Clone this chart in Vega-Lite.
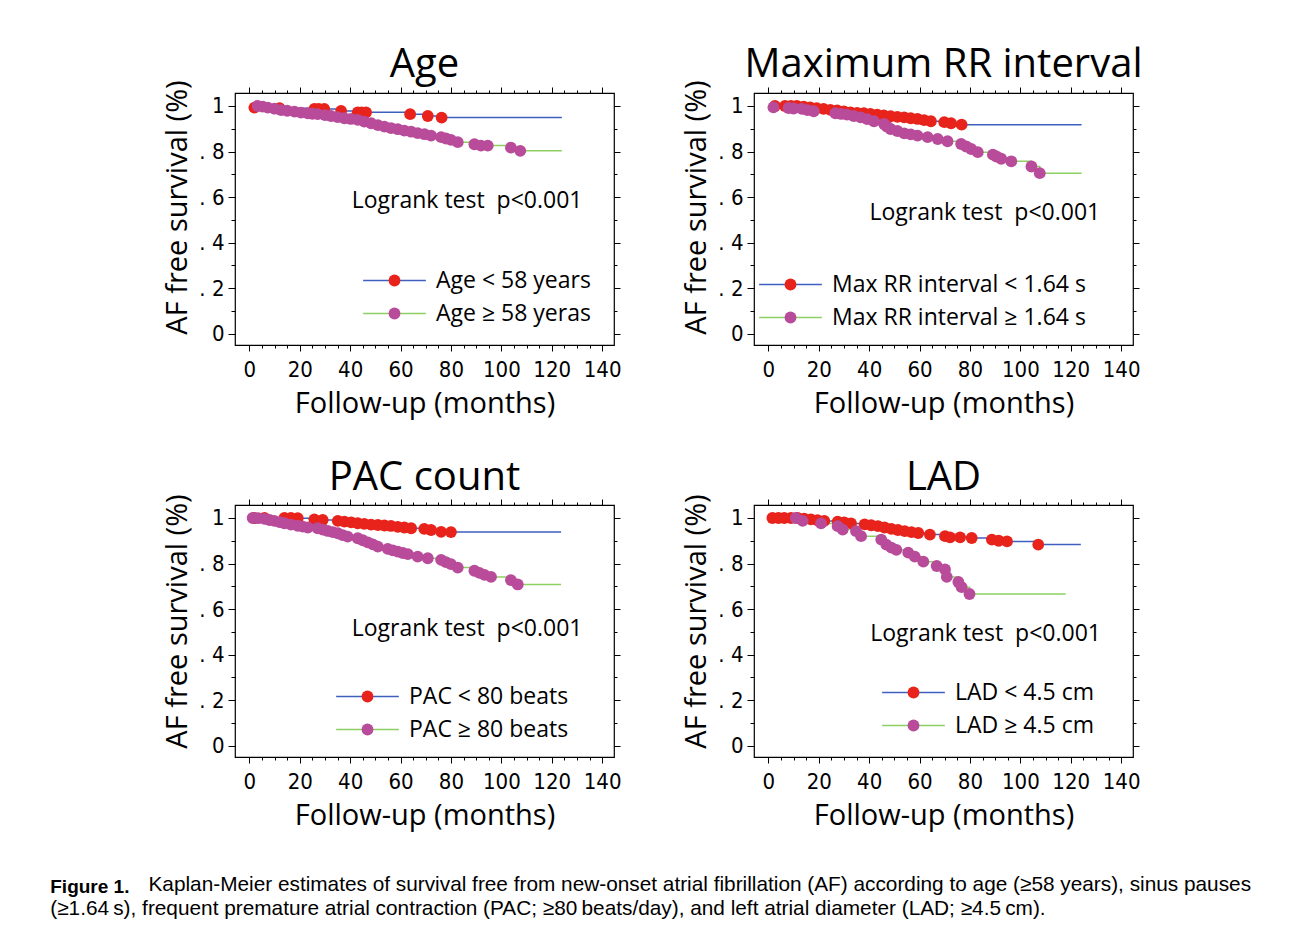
{
  "$schema": "https://vega.github.io/schema/vega-lite/v6.json",
  "background": "white",
  "padding": {"left": 50, "top": 44, "right": 10, "bottom": 10},
  "autosize": {"type": "pad"},
  "columns": 2,
  "spacing": {"row": 38, "column": 60},
  "resolve": {"scale": {"stroke": "independent", "fill": "independent"}, "legend": {"stroke": "independent", "fill": "independent"}},
  "title": {
    "text": "Figure 1.",
    "subtitle": ["\u200b\u00a0\u00a0\u00a0\u00a0\u00a0\u00a0\u00a0\u00a0\u00a0\u00a0\u00a0\u00a0\u00a0\u00a0\u00a0\u00a0\u00a0Kaplan-Meier estimates of survival free from new-onset atrial fibrillation (AF) according to age (≥58 years), sinus pauses", "(≥1.64\u2009s), frequent premature atrial contraction (PAC; ≥80\u2009beats/day), and left atrial diameter (LAD; ≥4.5\u2009cm)."],
    "orient": "bottom", "anchor": "start", "frame": "bounds", "dx": -113, "offset": 47,
    "font": "Liberation Sans", "fontSize": 19, "fontWeight": "bold", "color": "black",
    "subtitleFont": "Liberation Sans", "subtitleFontSize": 20.8, "subtitleColor": "black", "subtitlePadding": -22, "subtitleLineHeight": 24
  },
  "config": {
    "view": {"stroke": "black", "strokeWidth": 1.2},
    "axis": {"domain": false, "grid": false, "labelColor": "black", "tickColor": "black", "titleColor": "black", "labelFont": "DejaVu Sans Condensed, Liberation Sans", "labelFontSize": 22, "titleFont": "Open Sans", "titleFontSize": 29, "titleFontWeight": "normal", "tickWidth": 1, "labelOverlap": false, "labelFlush": false},
    "title": {"font": "Open Sans", "fontSize": 40, "fontWeight": "normal", "color": "black"}
  },
  "concat": [
    {
      "width": 379, "height": 252,
      "title": {"text": "Age", "offset": -5},
      "data": {"values": [
        {"group": "Age < 58 years", "time": 0, "surv": 1, "type": "start"},
        {"group": "Age < 58 years", "time": 2.0, "surv": 0.993, "type": "censor"},
        {"group": "Age < 58 years", "time": 12.0, "surv": 0.99, "type": "censor"},
        {"group": "Age < 58 years", "time": 25.8, "surv": 0.987, "type": "censor"},
        {"group": "Age < 58 years", "time": 27.5, "surv": 0.987, "type": "censor"},
        {"group": "Age < 58 years", "time": 29.7, "surv": 0.987, "type": "censor"},
        {"group": "Age < 58 years", "time": 36.4, "surv": 0.978, "type": "censor"},
        {"group": "Age < 58 years", "time": 43.0, "surv": 0.972, "type": "censor"},
        {"group": "Age < 58 years", "time": 44.5, "surv": 0.972, "type": "censor"},
        {"group": "Age < 58 years", "time": 46.3, "surv": 0.972, "type": "censor"},
        {"group": "Age < 58 years", "time": 63.8, "surv": 0.964, "type": "censor"},
        {"group": "Age < 58 years", "time": 70.8, "surv": 0.956, "type": "censor"},
        {"group": "Age < 58 years", "time": 76.3, "surv": 0.949, "type": "censor"},
        {"group": "Age < 58 years", "time": 124, "surv": 0.949, "type": "end"},
        {"group": "Age ≥ 58 yeras", "time": 0, "surv": 1, "type": "start"},
        {"group": "Age ≥ 58 yeras", "time": 3.3, "surv": 1.0, "type": "censor"},
        {"group": "Age ≥ 58 yeras", "time": 5.3, "surv": 0.997, "type": "censor"},
        {"group": "Age ≥ 58 yeras", "time": 7.3, "surv": 0.993, "type": "censor"},
        {"group": "Age ≥ 58 yeras", "time": 10.0, "surv": 0.988, "type": "censor"},
        {"group": "Age ≥ 58 yeras", "time": 12.6, "surv": 0.982, "type": "censor"},
        {"group": "Age ≥ 58 yeras", "time": 15.0, "surv": 0.979, "type": "censor"},
        {"group": "Age ≥ 58 yeras", "time": 17.9, "surv": 0.975, "type": "censor"},
        {"group": "Age ≥ 58 yeras", "time": 20.5, "surv": 0.971, "type": "censor"},
        {"group": "Age ≥ 58 yeras", "time": 23.2, "surv": 0.968, "type": "censor"},
        {"group": "Age ≥ 58 yeras", "time": 25.0, "surv": 0.966, "type": "censor"},
        {"group": "Age ≥ 58 yeras", "time": 27.1, "surv": 0.964, "type": "censor"},
        {"group": "Age ≥ 58 yeras", "time": 30.0, "surv": 0.96, "type": "censor"},
        {"group": "Age ≥ 58 yeras", "time": 32.4, "surv": 0.956, "type": "censor"},
        {"group": "Age ≥ 58 yeras", "time": 35.0, "surv": 0.951, "type": "censor"},
        {"group": "Age ≥ 58 yeras", "time": 37.7, "surv": 0.946, "type": "censor"},
        {"group": "Age ≥ 58 yeras", "time": 40.3, "surv": 0.943, "type": "censor"},
        {"group": "Age ≥ 58 yeras", "time": 43.0, "surv": 0.939, "type": "censor"},
        {"group": "Age ≥ 58 yeras", "time": 45.6, "surv": 0.931, "type": "censor"},
        {"group": "Age ≥ 58 yeras", "time": 48.3, "surv": 0.924, "type": "censor"},
        {"group": "Age ≥ 58 yeras", "time": 51.0, "surv": 0.916, "type": "censor"},
        {"group": "Age ≥ 58 yeras", "time": 53.6, "surv": 0.909, "type": "censor"},
        {"group": "Age ≥ 58 yeras", "time": 56.2, "surv": 0.903, "type": "censor"},
        {"group": "Age ≥ 58 yeras", "time": 58.9, "surv": 0.898, "type": "censor"},
        {"group": "Age ≥ 58 yeras", "time": 61.5, "surv": 0.892, "type": "censor"},
        {"group": "Age ≥ 58 yeras", "time": 64.2, "surv": 0.887, "type": "censor"},
        {"group": "Age ≥ 58 yeras", "time": 66.8, "surv": 0.881, "type": "censor"},
        {"group": "Age ≥ 58 yeras", "time": 69.5, "surv": 0.876, "type": "censor"},
        {"group": "Age ≥ 58 yeras", "time": 72.1, "surv": 0.87, "type": "censor"},
        {"group": "Age ≥ 58 yeras", "time": 76.1, "surv": 0.863, "type": "censor"},
        {"group": "Age ≥ 58 yeras", "time": 78.0, "surv": 0.857, "type": "censor"},
        {"group": "Age ≥ 58 yeras", "time": 80.0, "surv": 0.851, "type": "censor"},
        {"group": "Age ≥ 58 yeras", "time": 82.7, "surv": 0.841, "type": "censor"},
        {"group": "Age ≥ 58 yeras", "time": 89.3, "surv": 0.832, "type": "censor"},
        {"group": "Age ≥ 58 yeras", "time": 91.9, "surv": 0.826, "type": "censor"},
        {"group": "Age ≥ 58 yeras", "time": 94.6, "surv": 0.826, "type": "censor"},
        {"group": "Age ≥ 58 yeras", "time": 103.8, "surv": 0.817, "type": "censor"},
        {"group": "Age ≥ 58 yeras", "time": 107.5, "surv": 0.803, "type": "censor"},
        {"group": "Age ≥ 58 yeras", "time": 124, "surv": 0.803, "type": "end"}
      ]},
      "layer": [
        {
          "mark": {"type": "line", "interpolate": "step-after", "strokeWidth": 1.5},
          "encoding": {
            "x": {"field": "time", "type": "quantitative", "scale": {"domain": [-5.7, 144.7], "nice": false, "zero": false},
              "axis": {"orient": "bottom", "values": [0,5,10,15,20,25,30,35,40,45,50,55,60,65,70,75,80,85,90,95,100,105,110,115,120,125,130,135,140], "labelExpr": "datum.value % 20 === 0 ? datum.label : ''", "tickSize": {"condition": {"test": "datum.value % 20 === 0", "value": 6}, "value": 3}, "title": "Follow-up (months)", "labelPadding": 8, "titlePadding": 9}},
            "y": {"field": "surv", "type": "quantitative", "scale": {"domain": [-0.05, 1.057], "nice": false, "zero": false},
              "axis": {"orient": "left", "values": [0,0.1,0.2,0.3,0.4,0.5,0.6,0.7,0.8,0.9,1], "labelExpr": "datum.value === 0 ? '0' : datum.value === 1 ? '1' : (round(datum.value*10) % 2 === 0 ? '. ' + round(datum.value*10) : '')", "tickSize": {"condition": {"test": "round(datum.value*10) % 2 === 0", "value": 7}, "value": 4}, "title": "AF free survival (%)", "labelPadding": 4, "titlePadding": 6, "titleY": 114}},
            "stroke": {"field": "group", "type": "nominal", "scale": {"range": ["#3f5fbf", "#8dcf63"]},
              "legend": {"orient": "none", "legendX": 148, "legendY": 176, "title": null, "symbolType": "M-5.3,0H5.3", "symbolSize": 140, "symbolStrokeWidth": 1.5, "labelFont": "Open Sans", "labelFontSize": 23, "labelColor": "black", "labelOffset": 30, "rowPadding": 9, "padding": 0, "labelLimit": 400}}
          }
        },
        {
          "transform": [{"filter": "datum.type === 'censor'"}],
          "mark": {"type": "point", "filled": true, "opacity": 1, "size": 140},
          "encoding": {
            "x": {"field": "time", "type": "quantitative", "axis": {"orient": "top", "labels": false, "title": null, "values": [0,5,10,15,20,25,30,35,40,45,50,55,60,65,70,75,80,85,90,95,100,105,110,115,120,125,130,135,140], "tickSize": {"condition": {"test": "datum.value % 20 === 0", "value": 6}, "value": 3}}},
            "y": {"field": "surv", "type": "quantitative", "axis": {"orient": "right", "labels": false, "title": null, "values": [0,0.1,0.2,0.3,0.4,0.5,0.6,0.7,0.8,0.9,1], "tickSize": {"condition": {"test": "round(datum.value*10) % 2 === 0", "value": 6}, "value": 3}}},
            "fill": {"field": "group", "type": "nominal", "scale": {"domain": ["Age < 58 years", "Age ≥ 58 yeras"], "range": ["#e8231b", "#b94b9b"]},
              "legend": {"orient": "none", "legendX": 148, "legendY": 176, "title": null, "symbolType": "circle", "symbolSize": 140, "symbolStrokeWidth": 0, "labelFont": "Open Sans", "labelFontSize": 23, "labelOpacity": 0, "labelOffset": 30, "rowPadding": 9, "padding": 0, "labelLimit": 400}}
          }
        },
        {
          "data": {"values": [{}]},
          "mark": {"type": "text", "font": "Open Sans", "fontSize": 23, "align": "center", "baseline": "middle", "color": "black"},
          "encoding": {
            "x": {"datum": 86.4, "type": "quantitative", "axis": null},
            "y": {"datum": 0.583, "type": "quantitative", "axis": null},
            "text": {"value": "Logrank test\u00a0\u00a0p<0.001"}
          }
        }
      ],
      "resolve": {"axis": {"x": "independent", "y": "independent"}}
    },
    {
      "width": 379, "height": 252,
      "title": {"text": "Maximum RR interval", "offset": -5},
      "data": {"values": [
        {"group": "Max RR interval < 1.64 s", "time": 0, "surv": 1, "type": "start"},
        {"group": "Max RR interval < 1.64 s", "time": 2.6, "surv": 1.0, "type": "censor"},
        {"group": "Max RR interval < 1.64 s", "time": 6.6, "surv": 1.0, "type": "censor"},
        {"group": "Max RR interval < 1.64 s", "time": 9.0, "surv": 1.0, "type": "censor"},
        {"group": "Max RR interval < 1.64 s", "time": 11.3, "surv": 1.0, "type": "censor"},
        {"group": "Max RR interval < 1.64 s", "time": 14.0, "surv": 0.997, "type": "censor"},
        {"group": "Max RR interval < 1.64 s", "time": 16.6, "surv": 0.994, "type": "censor"},
        {"group": "Max RR interval < 1.64 s", "time": 19.2, "surv": 0.99, "type": "censor"},
        {"group": "Max RR interval < 1.64 s", "time": 21.9, "surv": 0.987, "type": "censor"},
        {"group": "Max RR interval < 1.64 s", "time": 24.6, "surv": 0.983, "type": "censor"},
        {"group": "Max RR interval < 1.64 s", "time": 27.3, "surv": 0.98, "type": "censor"},
        {"group": "Max RR interval < 1.64 s", "time": 30.0, "surv": 0.976, "type": "censor"},
        {"group": "Max RR interval < 1.64 s", "time": 32.6, "surv": 0.972, "type": "censor"},
        {"group": "Max RR interval < 1.64 s", "time": 35.2, "surv": 0.97, "type": "censor"},
        {"group": "Max RR interval < 1.64 s", "time": 37.9, "surv": 0.968, "type": "censor"},
        {"group": "Max RR interval < 1.64 s", "time": 40.5, "surv": 0.965, "type": "censor"},
        {"group": "Max RR interval < 1.64 s", "time": 43.2, "surv": 0.962, "type": "censor"},
        {"group": "Max RR interval < 1.64 s", "time": 45.8, "surv": 0.958, "type": "censor"},
        {"group": "Max RR interval < 1.64 s", "time": 48.5, "surv": 0.955, "type": "censor"},
        {"group": "Max RR interval < 1.64 s", "time": 51.2, "surv": 0.952, "type": "censor"},
        {"group": "Max RR interval < 1.64 s", "time": 53.9, "surv": 0.95, "type": "censor"},
        {"group": "Max RR interval < 1.64 s", "time": 56.5, "surv": 0.946, "type": "censor"},
        {"group": "Max RR interval < 1.64 s", "time": 59.2, "surv": 0.943, "type": "censor"},
        {"group": "Max RR interval < 1.64 s", "time": 61.8, "surv": 0.938, "type": "censor"},
        {"group": "Max RR interval < 1.64 s", "time": 64.5, "surv": 0.933, "type": "censor"},
        {"group": "Max RR interval < 1.64 s", "time": 69.8, "surv": 0.929, "type": "censor"},
        {"group": "Max RR interval < 1.64 s", "time": 72.5, "surv": 0.924, "type": "censor"},
        {"group": "Max RR interval < 1.64 s", "time": 76.7, "surv": 0.918, "type": "censor"},
        {"group": "Max RR interval < 1.64 s", "time": 124.3, "surv": 0.918, "type": "end"},
        {"group": "Max RR interval ≥ 1.64 s", "time": 0, "surv": 1, "type": "start"},
        {"group": "Max RR interval ≥ 1.64 s", "time": 2.0, "surv": 0.994, "type": "censor"},
        {"group": "Max RR interval ≥ 1.64 s", "time": 8.0, "surv": 0.991, "type": "censor"},
        {"group": "Max RR interval ≥ 1.64 s", "time": 10.0, "surv": 0.989, "type": "censor"},
        {"group": "Max RR interval ≥ 1.64 s", "time": 13.3, "surv": 0.987, "type": "censor"},
        {"group": "Max RR interval ≥ 1.64 s", "time": 15.5, "surv": 0.982, "type": "censor"},
        {"group": "Max RR interval ≥ 1.64 s", "time": 18.0, "surv": 0.977, "type": "censor"},
        {"group": "Max RR interval ≥ 1.64 s", "time": 26.6, "surv": 0.968, "type": "censor"},
        {"group": "Max RR interval ≥ 1.64 s", "time": 28.9, "surv": 0.965, "type": "censor"},
        {"group": "Max RR interval ≥ 1.64 s", "time": 31.2, "surv": 0.962, "type": "censor"},
        {"group": "Max RR interval ≥ 1.64 s", "time": 33.9, "surv": 0.956, "type": "censor"},
        {"group": "Max RR interval ≥ 1.64 s", "time": 36.6, "surv": 0.95, "type": "censor"},
        {"group": "Max RR interval ≥ 1.64 s", "time": 39.2, "surv": 0.942, "type": "censor"},
        {"group": "Max RR interval ≥ 1.64 s", "time": 41.9, "surv": 0.933, "type": "censor"},
        {"group": "Max RR interval ≥ 1.64 s", "time": 45.9, "surv": 0.921, "type": "censor"},
        {"group": "Max RR interval ≥ 1.64 s", "time": 47.0, "surv": 0.91, "type": "censor"},
        {"group": "Max RR interval ≥ 1.64 s", "time": 48.5, "surv": 0.899, "type": "censor"},
        {"group": "Max RR interval ≥ 1.64 s", "time": 51.2, "surv": 0.89, "type": "censor"},
        {"group": "Max RR interval ≥ 1.64 s", "time": 53.9, "surv": 0.88, "type": "censor"},
        {"group": "Max RR interval ≥ 1.64 s", "time": 56.5, "surv": 0.875, "type": "censor"},
        {"group": "Max RR interval ≥ 1.64 s", "time": 59.2, "surv": 0.87, "type": "censor"},
        {"group": "Max RR interval ≥ 1.64 s", "time": 63.2, "surv": 0.863, "type": "censor"},
        {"group": "Max RR interval ≥ 1.64 s", "time": 67.2, "surv": 0.855, "type": "censor"},
        {"group": "Max RR interval ≥ 1.64 s", "time": 71.1, "surv": 0.845, "type": "censor"},
        {"group": "Max RR interval ≥ 1.64 s", "time": 76.5, "surv": 0.833, "type": "censor"},
        {"group": "Max RR interval ≥ 1.64 s", "time": 78.5, "surv": 0.822, "type": "censor"},
        {"group": "Max RR interval ≥ 1.64 s", "time": 80.5, "surv": 0.811, "type": "censor"},
        {"group": "Max RR interval ≥ 1.64 s", "time": 83.1, "surv": 0.797, "type": "censor"},
        {"group": "Max RR interval ≥ 1.64 s", "time": 89.1, "surv": 0.786, "type": "censor"},
        {"group": "Max RR interval ≥ 1.64 s", "time": 90.5, "surv": 0.778, "type": "censor"},
        {"group": "Max RR interval ≥ 1.64 s", "time": 92.4, "surv": 0.768, "type": "censor"},
        {"group": "Max RR interval ≥ 1.64 s", "time": 96.4, "surv": 0.757, "type": "censor"},
        {"group": "Max RR interval ≥ 1.64 s", "time": 104.4, "surv": 0.734, "type": "censor"},
        {"group": "Max RR interval ≥ 1.64 s", "time": 107.7, "surv": 0.705, "type": "censor"},
        {"group": "Max RR interval ≥ 1.64 s", "time": 124.3, "surv": 0.705, "type": "end"}
      ]},
      "layer": [
        {
          "mark": {"type": "line", "interpolate": "step-after", "strokeWidth": 1.5},
          "encoding": {
            "x": {"field": "time", "type": "quantitative", "scale": {"domain": [-5.7, 144.7], "nice": false, "zero": false},
              "axis": {"orient": "bottom", "values": [0,5,10,15,20,25,30,35,40,45,50,55,60,65,70,75,80,85,90,95,100,105,110,115,120,125,130,135,140], "labelExpr": "datum.value % 20 === 0 ? datum.label : ''", "tickSize": {"condition": {"test": "datum.value % 20 === 0", "value": 6}, "value": 3}, "title": "Follow-up (months)", "labelPadding": 8, "titlePadding": 9}},
            "y": {"field": "surv", "type": "quantitative", "scale": {"domain": [-0.05, 1.057], "nice": false, "zero": false},
              "axis": {"orient": "left", "values": [0,0.1,0.2,0.3,0.4,0.5,0.6,0.7,0.8,0.9,1], "labelExpr": "datum.value === 0 ? '0' : datum.value === 1 ? '1' : (round(datum.value*10) % 2 === 0 ? '. ' + round(datum.value*10) : '')", "tickSize": {"condition": {"test": "round(datum.value*10) % 2 === 0", "value": 7}, "value": 4}, "title": "AF free survival (%)", "labelPadding": 4, "titlePadding": 6, "titleY": 114}},
            "stroke": {"field": "group", "type": "nominal", "scale": {"range": ["#3f5fbf", "#8dcf63"]},
              "legend": {"orient": "none", "legendX": 25, "legendY": 180, "title": null, "symbolType": "M-5.3,0H5.3", "symbolSize": 140, "symbolStrokeWidth": 1.5, "labelFont": "Open Sans", "labelFontSize": 23, "labelColor": "black", "labelOffset": 30, "rowPadding": 9, "padding": 0, "labelLimit": 400}}
          }
        },
        {
          "transform": [{"filter": "datum.type === 'censor'"}],
          "mark": {"type": "point", "filled": true, "opacity": 1, "size": 140},
          "encoding": {
            "x": {"field": "time", "type": "quantitative", "axis": {"orient": "top", "labels": false, "title": null, "values": [0,5,10,15,20,25,30,35,40,45,50,55,60,65,70,75,80,85,90,95,100,105,110,115,120,125,130,135,140], "tickSize": {"condition": {"test": "datum.value % 20 === 0", "value": 6}, "value": 3}}},
            "y": {"field": "surv", "type": "quantitative", "axis": {"orient": "right", "labels": false, "title": null, "values": [0,0.1,0.2,0.3,0.4,0.5,0.6,0.7,0.8,0.9,1], "tickSize": {"condition": {"test": "round(datum.value*10) % 2 === 0", "value": 6}, "value": 3}}},
            "fill": {"field": "group", "type": "nominal", "scale": {"domain": ["Max RR interval < 1.64 s", "Max RR interval ≥ 1.64 s"], "range": ["#e8231b", "#b94b9b"]},
              "legend": {"orient": "none", "legendX": 25, "legendY": 180, "title": null, "symbolType": "circle", "symbolSize": 140, "symbolStrokeWidth": 0, "labelFont": "Open Sans", "labelFontSize": 23, "labelOpacity": 0, "labelOffset": 30, "rowPadding": 9, "padding": 0, "labelLimit": 400}}
          }
        },
        {
          "data": {"values": [{}]},
          "mark": {"type": "text", "font": "Open Sans", "fontSize": 23, "align": "center", "baseline": "middle", "color": "black"},
          "encoding": {
            "x": {"datum": 85.9, "type": "quantitative", "axis": null},
            "y": {"datum": 0.531, "type": "quantitative", "axis": null},
            "text": {"value": "Logrank test\u00a0\u00a0p<0.001"}
          }
        }
      ],
      "resolve": {"axis": {"x": "independent", "y": "independent"}}
    },
    {
      "width": 379, "height": 252,
      "title": {"text": "PAC count", "offset": -4},
      "data": {"values": [
        {"group": "PAC < 80 beats", "time": 0, "surv": 1, "type": "start"},
        {"group": "PAC < 80 beats", "time": 2.0, "surv": 1.0, "type": "censor"},
        {"group": "PAC < 80 beats", "time": 6.0, "surv": 1.0, "type": "censor"},
        {"group": "PAC < 80 beats", "time": 13.9, "surv": 1.0, "type": "censor"},
        {"group": "PAC < 80 beats", "time": 16.5, "surv": 1.0, "type": "censor"},
        {"group": "PAC < 80 beats", "time": 19.2, "surv": 0.999, "type": "censor"},
        {"group": "PAC < 80 beats", "time": 25.8, "surv": 0.994, "type": "censor"},
        {"group": "PAC < 80 beats", "time": 29.1, "surv": 0.991, "type": "censor"},
        {"group": "PAC < 80 beats", "time": 35.1, "surv": 0.987, "type": "censor"},
        {"group": "PAC < 80 beats", "time": 37.7, "surv": 0.984, "type": "censor"},
        {"group": "PAC < 80 beats", "time": 40.4, "surv": 0.981, "type": "censor"},
        {"group": "PAC < 80 beats", "time": 43.0, "surv": 0.977, "type": "censor"},
        {"group": "PAC < 80 beats", "time": 45.6, "surv": 0.974, "type": "censor"},
        {"group": "PAC < 80 beats", "time": 48.3, "surv": 0.971, "type": "censor"},
        {"group": "PAC < 80 beats", "time": 51.0, "surv": 0.969, "type": "censor"},
        {"group": "PAC < 80 beats", "time": 53.6, "surv": 0.967, "type": "censor"},
        {"group": "PAC < 80 beats", "time": 56.2, "surv": 0.965, "type": "censor"},
        {"group": "PAC < 80 beats", "time": 58.9, "surv": 0.961, "type": "censor"},
        {"group": "PAC < 80 beats", "time": 61.5, "surv": 0.958, "type": "censor"},
        {"group": "PAC < 80 beats", "time": 64.2, "surv": 0.955, "type": "censor"},
        {"group": "PAC < 80 beats", "time": 69.4, "surv": 0.952, "type": "censor"},
        {"group": "PAC < 80 beats", "time": 72.1, "surv": 0.947, "type": "censor"},
        {"group": "PAC < 80 beats", "time": 76.1, "surv": 0.939, "type": "censor"},
        {"group": "PAC < 80 beats", "time": 80.0, "surv": 0.938, "type": "censor"},
        {"group": "PAC < 80 beats", "time": 123.7, "surv": 0.938, "type": "end"},
        {"group": "PAC ≥ 80 beats", "time": 0, "surv": 1, "type": "start"},
        {"group": "PAC ≥ 80 beats", "time": 1.3, "surv": 1.0, "type": "censor"},
        {"group": "PAC ≥ 80 beats", "time": 3.5, "surv": 0.999, "type": "censor"},
        {"group": "PAC ≥ 80 beats", "time": 6.0, "surv": 0.996, "type": "censor"},
        {"group": "PAC ≥ 80 beats", "time": 8.0, "surv": 0.991, "type": "censor"},
        {"group": "PAC ≥ 80 beats", "time": 9.9, "surv": 0.987, "type": "censor"},
        {"group": "PAC ≥ 80 beats", "time": 12.0, "surv": 0.982, "type": "censor"},
        {"group": "PAC ≥ 80 beats", "time": 13.9, "surv": 0.977, "type": "censor"},
        {"group": "PAC ≥ 80 beats", "time": 16.5, "surv": 0.971, "type": "censor"},
        {"group": "PAC ≥ 80 beats", "time": 19.2, "surv": 0.966, "type": "censor"},
        {"group": "PAC ≥ 80 beats", "time": 21.2, "surv": 0.962, "type": "censor"},
        {"group": "PAC ≥ 80 beats", "time": 23.2, "surv": 0.958, "type": "censor"},
        {"group": "PAC ≥ 80 beats", "time": 27.1, "surv": 0.955, "type": "censor"},
        {"group": "PAC ≥ 80 beats", "time": 29.1, "surv": 0.949, "type": "censor"},
        {"group": "PAC ≥ 80 beats", "time": 31.1, "surv": 0.943, "type": "censor"},
        {"group": "PAC ≥ 80 beats", "time": 33.1, "surv": 0.938, "type": "censor"},
        {"group": "PAC ≥ 80 beats", "time": 35.1, "surv": 0.933, "type": "censor"},
        {"group": "PAC ≥ 80 beats", "time": 37.0, "surv": 0.925, "type": "censor"},
        {"group": "PAC ≥ 80 beats", "time": 39.0, "surv": 0.918, "type": "censor"},
        {"group": "PAC ≥ 80 beats", "time": 43.0, "surv": 0.911, "type": "censor"},
        {"group": "PAC ≥ 80 beats", "time": 45.0, "surv": 0.902, "type": "censor"},
        {"group": "PAC ≥ 80 beats", "time": 47.0, "surv": 0.893, "type": "censor"},
        {"group": "PAC ≥ 80 beats", "time": 49.0, "surv": 0.884, "type": "censor"},
        {"group": "PAC ≥ 80 beats", "time": 51.0, "surv": 0.874, "type": "censor"},
        {"group": "PAC ≥ 80 beats", "time": 54.9, "surv": 0.864, "type": "censor"},
        {"group": "PAC ≥ 80 beats", "time": 56.9, "surv": 0.858, "type": "censor"},
        {"group": "PAC ≥ 80 beats", "time": 58.9, "surv": 0.852, "type": "censor"},
        {"group": "PAC ≥ 80 beats", "time": 60.9, "surv": 0.846, "type": "censor"},
        {"group": "PAC ≥ 80 beats", "time": 62.9, "surv": 0.841, "type": "censor"},
        {"group": "PAC ≥ 80 beats", "time": 66.8, "surv": 0.83, "type": "censor"},
        {"group": "PAC ≥ 80 beats", "time": 70.8, "surv": 0.823, "type": "censor"},
        {"group": "PAC ≥ 80 beats", "time": 76.1, "surv": 0.816, "type": "censor"},
        {"group": "PAC ≥ 80 beats", "time": 78.0, "surv": 0.806, "type": "censor"},
        {"group": "PAC ≥ 80 beats", "time": 80.0, "surv": 0.797, "type": "censor"},
        {"group": "PAC ≥ 80 beats", "time": 82.7, "surv": 0.782, "type": "censor"},
        {"group": "PAC ≥ 80 beats", "time": 89.3, "surv": 0.768, "type": "censor"},
        {"group": "PAC ≥ 80 beats", "time": 91.3, "surv": 0.759, "type": "censor"},
        {"group": "PAC ≥ 80 beats", "time": 93.3, "surv": 0.75, "type": "censor"},
        {"group": "PAC ≥ 80 beats", "time": 95.9, "surv": 0.741, "type": "censor"},
        {"group": "PAC ≥ 80 beats", "time": 103.8, "surv": 0.727, "type": "censor"},
        {"group": "PAC ≥ 80 beats", "time": 106.5, "surv": 0.708, "type": "censor"},
        {"group": "PAC ≥ 80 beats", "time": 123.7, "surv": 0.708, "type": "end"}
      ]},
      "layer": [
        {
          "mark": {"type": "line", "interpolate": "step-after", "strokeWidth": 1.5},
          "encoding": {
            "x": {"field": "time", "type": "quantitative", "scale": {"domain": [-5.7, 144.7], "nice": false, "zero": false},
              "axis": {"orient": "bottom", "values": [0,5,10,15,20,25,30,35,40,45,50,55,60,65,70,75,80,85,90,95,100,105,110,115,120,125,130,135,140], "labelExpr": "datum.value % 20 === 0 ? datum.label : ''", "tickSize": {"condition": {"test": "datum.value % 20 === 0", "value": 6}, "value": 3}, "title": "Follow-up (months)", "labelPadding": 8, "titlePadding": 9}},
            "y": {"field": "surv", "type": "quantitative", "scale": {"domain": [-0.05, 1.057], "nice": false, "zero": false},
              "axis": {"orient": "left", "values": [0,0.1,0.2,0.3,0.4,0.5,0.6,0.7,0.8,0.9,1], "labelExpr": "datum.value === 0 ? '0' : datum.value === 1 ? '1' : (round(datum.value*10) % 2 === 0 ? '. ' + round(datum.value*10) : '')", "tickSize": {"condition": {"test": "round(datum.value*10) % 2 === 0", "value": 7}, "value": 4}, "title": "AF free survival (%)", "labelPadding": 4, "titlePadding": 6, "titleY": 116}},
            "stroke": {"field": "group", "type": "nominal", "scale": {"range": ["#3f5fbf", "#8dcf63"]},
              "legend": {"orient": "none", "legendX": 121, "legendY": 180, "title": null, "symbolType": "M-5.3,0H5.3", "symbolSize": 140, "symbolStrokeWidth": 1.5, "labelFont": "Open Sans", "labelFontSize": 23, "labelColor": "black", "labelOffset": 30, "rowPadding": 9, "padding": 0, "labelLimit": 400}}
          }
        },
        {
          "transform": [{"filter": "datum.type === 'censor'"}],
          "mark": {"type": "point", "filled": true, "opacity": 1, "size": 140},
          "encoding": {
            "x": {"field": "time", "type": "quantitative", "axis": {"orient": "top", "labels": false, "title": null, "values": [0,5,10,15,20,25,30,35,40,45,50,55,60,65,70,75,80,85,90,95,100,105,110,115,120,125,130,135,140], "tickSize": {"condition": {"test": "datum.value % 20 === 0", "value": 6}, "value": 3}}},
            "y": {"field": "surv", "type": "quantitative", "axis": {"orient": "right", "labels": false, "title": null, "values": [0,0.1,0.2,0.3,0.4,0.5,0.6,0.7,0.8,0.9,1], "tickSize": {"condition": {"test": "round(datum.value*10) % 2 === 0", "value": 6}, "value": 3}}},
            "fill": {"field": "group", "type": "nominal", "scale": {"domain": ["PAC < 80 beats", "PAC ≥ 80 beats"], "range": ["#e8231b", "#b94b9b"]},
              "legend": {"orient": "none", "legendX": 121, "legendY": 180, "title": null, "symbolType": "circle", "symbolSize": 140, "symbolStrokeWidth": 0, "labelFont": "Open Sans", "labelFontSize": 23, "labelOpacity": 0, "labelOffset": 30, "rowPadding": 9, "padding": 0, "labelLimit": 400}}
          }
        },
        {
          "data": {"values": [{}]},
          "mark": {"type": "text", "font": "Open Sans", "fontSize": 23, "align": "center", "baseline": "middle", "color": "black"},
          "encoding": {
            "x": {"datum": 86.4, "type": "quantitative", "axis": null},
            "y": {"datum": 0.513, "type": "quantitative", "axis": null},
            "text": {"value": "Logrank test\u00a0\u00a0p<0.001"}
          }
        }
      ],
      "resolve": {"axis": {"x": "independent", "y": "independent"}}
    },
    {
      "width": 379, "height": 252,
      "title": {"text": "LAD", "offset": -4},
      "data": {"values": [
        {"group": "LAD < 4.5 cm", "time": 0, "surv": 1, "type": "start"},
        {"group": "LAD < 4.5 cm", "time": 1.6, "surv": 1.0, "type": "censor"},
        {"group": "LAD < 4.5 cm", "time": 4.0, "surv": 1.0, "type": "censor"},
        {"group": "LAD < 4.5 cm", "time": 6.3, "surv": 1.0, "type": "censor"},
        {"group": "LAD < 4.5 cm", "time": 9.0, "surv": 1.0, "type": "censor"},
        {"group": "LAD < 4.5 cm", "time": 11.6, "surv": 1.0, "type": "censor"},
        {"group": "LAD < 4.5 cm", "time": 14.2, "surv": 0.997, "type": "censor"},
        {"group": "LAD < 4.5 cm", "time": 16.9, "surv": 0.994, "type": "censor"},
        {"group": "LAD < 4.5 cm", "time": 19.5, "surv": 0.99, "type": "censor"},
        {"group": "LAD < 4.5 cm", "time": 22.2, "surv": 0.987, "type": "censor"},
        {"group": "LAD < 4.5 cm", "time": 27.5, "surv": 0.984, "type": "censor"},
        {"group": "LAD < 4.5 cm", "time": 30.1, "surv": 0.98, "type": "censor"},
        {"group": "LAD < 4.5 cm", "time": 32.8, "surv": 0.976, "type": "censor"},
        {"group": "LAD < 4.5 cm", "time": 38.2, "surv": 0.972, "type": "censor"},
        {"group": "LAD < 4.5 cm", "time": 40.8, "surv": 0.968, "type": "censor"},
        {"group": "LAD < 4.5 cm", "time": 43.5, "surv": 0.964, "type": "censor"},
        {"group": "LAD < 4.5 cm", "time": 46.1, "surv": 0.958, "type": "censor"},
        {"group": "LAD < 4.5 cm", "time": 48.8, "surv": 0.952, "type": "censor"},
        {"group": "LAD < 4.5 cm", "time": 51.4, "surv": 0.947, "type": "censor"},
        {"group": "LAD < 4.5 cm", "time": 54.1, "surv": 0.942, "type": "censor"},
        {"group": "LAD < 4.5 cm", "time": 56.8, "surv": 0.938, "type": "censor"},
        {"group": "LAD < 4.5 cm", "time": 59.5, "surv": 0.934, "type": "censor"},
        {"group": "LAD < 4.5 cm", "time": 64.1, "surv": 0.927, "type": "censor"},
        {"group": "LAD < 4.5 cm", "time": 70.1, "surv": 0.92, "type": "censor"},
        {"group": "LAD < 4.5 cm", "time": 72.1, "surv": 0.915, "type": "censor"},
        {"group": "LAD < 4.5 cm", "time": 76.1, "surv": 0.915, "type": "censor"},
        {"group": "LAD < 4.5 cm", "time": 80.7, "surv": 0.912, "type": "censor"},
        {"group": "LAD < 4.5 cm", "time": 88.7, "surv": 0.905, "type": "censor"},
        {"group": "LAD < 4.5 cm", "time": 91.4, "surv": 0.9, "type": "censor"},
        {"group": "LAD < 4.5 cm", "time": 94.7, "surv": 0.897, "type": "censor"},
        {"group": "LAD < 4.5 cm", "time": 107.1, "surv": 0.883, "type": "censor"},
        {"group": "LAD < 4.5 cm", "time": 124.0, "surv": 0.883, "type": "end"},
        {"group": "LAD ≥ 4.5 cm", "time": 0, "surv": 1, "type": "start"},
        {"group": "LAD ≥ 4.5 cm", "time": 10.9, "surv": 1.0, "type": "censor"},
        {"group": "LAD ≥ 4.5 cm", "time": 13.6, "surv": 0.987, "type": "censor"},
        {"group": "LAD ≥ 4.5 cm", "time": 20.9, "surv": 0.976, "type": "censor"},
        {"group": "LAD ≥ 4.5 cm", "time": 27.5, "surv": 0.964, "type": "censor"},
        {"group": "LAD ≥ 4.5 cm", "time": 29.5, "surv": 0.949, "type": "censor"},
        {"group": "LAD ≥ 4.5 cm", "time": 34.8, "surv": 0.942, "type": "censor"},
        {"group": "LAD ≥ 4.5 cm", "time": 36.8, "surv": 0.92, "type": "censor"},
        {"group": "LAD ≥ 4.5 cm", "time": 44.8, "surv": 0.905, "type": "censor"},
        {"group": "LAD ≥ 4.5 cm", "time": 46.8, "surv": 0.883, "type": "censor"},
        {"group": "LAD ≥ 4.5 cm", "time": 48.8, "surv": 0.87, "type": "censor"},
        {"group": "LAD ≥ 4.5 cm", "time": 50.8, "surv": 0.86, "type": "censor"},
        {"group": "LAD ≥ 4.5 cm", "time": 55.5, "surv": 0.848, "type": "censor"},
        {"group": "LAD ≥ 4.5 cm", "time": 58.1, "surv": 0.83, "type": "censor"},
        {"group": "LAD ≥ 4.5 cm", "time": 61.5, "surv": 0.808, "type": "censor"},
        {"group": "LAD ≥ 4.5 cm", "time": 66.8, "surv": 0.789, "type": "censor"},
        {"group": "LAD ≥ 4.5 cm", "time": 70.1, "surv": 0.774, "type": "censor"},
        {"group": "LAD ≥ 4.5 cm", "time": 70.8, "surv": 0.741, "type": "censor"},
        {"group": "LAD ≥ 4.5 cm", "time": 75.4, "surv": 0.719, "type": "censor"},
        {"group": "LAD ≥ 4.5 cm", "time": 76.7, "surv": 0.696, "type": "censor"},
        {"group": "LAD ≥ 4.5 cm", "time": 79.8, "surv": 0.666, "type": "censor"},
        {"group": "LAD ≥ 4.5 cm", "time": 118.0, "surv": 0.666, "type": "end"}
      ]},
      "layer": [
        {
          "mark": {"type": "line", "interpolate": "step-after", "strokeWidth": 1.5},
          "encoding": {
            "x": {"field": "time", "type": "quantitative", "scale": {"domain": [-5.7, 144.7], "nice": false, "zero": false},
              "axis": {"orient": "bottom", "values": [0,5,10,15,20,25,30,35,40,45,50,55,60,65,70,75,80,85,90,95,100,105,110,115,120,125,130,135,140], "labelExpr": "datum.value % 20 === 0 ? datum.label : ''", "tickSize": {"condition": {"test": "datum.value % 20 === 0", "value": 6}, "value": 3}, "title": "Follow-up (months)", "labelPadding": 8, "titlePadding": 9}},
            "y": {"field": "surv", "type": "quantitative", "scale": {"domain": [-0.05, 1.057], "nice": false, "zero": false},
              "axis": {"orient": "left", "values": [0,0.1,0.2,0.3,0.4,0.5,0.6,0.7,0.8,0.9,1], "labelExpr": "datum.value === 0 ? '0' : datum.value === 1 ? '1' : (round(datum.value*10) % 2 === 0 ? '. ' + round(datum.value*10) : '')", "tickSize": {"condition": {"test": "round(datum.value*10) % 2 === 0", "value": 7}, "value": 4}, "title": "AF free survival (%)", "labelPadding": 4, "titlePadding": 6, "titleY": 116}},
            "stroke": {"field": "group", "type": "nominal", "scale": {"range": ["#3f5fbf", "#8dcf63"]},
              "legend": {"orient": "none", "legendX": 148, "legendY": 176, "title": null, "symbolType": "M-5.3,0H5.3", "symbolSize": 140, "symbolStrokeWidth": 1.5, "labelFont": "Open Sans", "labelFontSize": 23, "labelColor": "black", "labelOffset": 30, "rowPadding": 9, "padding": 0, "labelLimit": 400}}
          }
        },
        {
          "transform": [{"filter": "datum.type === 'censor'"}],
          "mark": {"type": "point", "filled": true, "opacity": 1, "size": 140},
          "encoding": {
            "x": {"field": "time", "type": "quantitative", "axis": {"orient": "top", "labels": false, "title": null, "values": [0,5,10,15,20,25,30,35,40,45,50,55,60,65,70,75,80,85,90,95,100,105,110,115,120,125,130,135,140], "tickSize": {"condition": {"test": "datum.value % 20 === 0", "value": 6}, "value": 3}}},
            "y": {"field": "surv", "type": "quantitative", "axis": {"orient": "right", "labels": false, "title": null, "values": [0,0.1,0.2,0.3,0.4,0.5,0.6,0.7,0.8,0.9,1], "tickSize": {"condition": {"test": "round(datum.value*10) % 2 === 0", "value": 6}, "value": 3}}},
            "fill": {"field": "group", "type": "nominal", "scale": {"domain": ["LAD < 4.5 cm", "LAD ≥ 4.5 cm"], "range": ["#e8231b", "#b94b9b"]},
              "legend": {"orient": "none", "legendX": 148, "legendY": 176, "title": null, "symbolType": "circle", "symbolSize": 140, "symbolStrokeWidth": 0, "labelFont": "Open Sans", "labelFontSize": 23, "labelOpacity": 0, "labelOffset": 30, "rowPadding": 9, "padding": 0, "labelLimit": 400}}
          }
        },
        {
          "data": {"values": [{}]},
          "mark": {"type": "text", "font": "Open Sans", "fontSize": 23, "align": "center", "baseline": "middle", "color": "black"},
          "encoding": {
            "x": {"datum": 86.2, "type": "quantitative", "axis": null},
            "y": {"datum": 0.491, "type": "quantitative", "axis": null},
            "text": {"value": "Logrank test\u00a0\u00a0p<0.001"}
          }
        }
      ],
      "resolve": {"axis": {"x": "independent", "y": "independent"}}
    }
  ]
}
